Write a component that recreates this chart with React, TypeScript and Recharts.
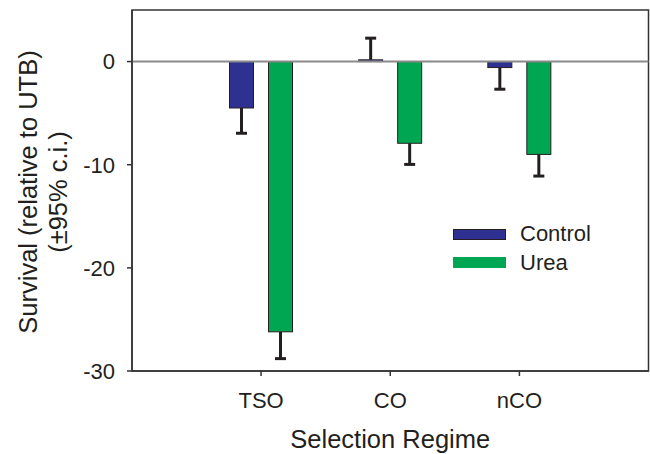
import * as RC from 'recharts';
import { BarChart, Bar, XAxis, YAxis, ReferenceLine, Legend } from 'recharts';

const regimes = ['TSO', 'CO', 'nCO'];
const control = [-4.5, 0.17, -0.58];
const controlCi = [2.45, 2.1, 2.1];
const urea = [-26.2, -7.92, -9.0];
const ureaCi = [2.6, 2.05, 2.1];
const yTicks = [-30, -20, -10, 0];

const data = regimes.map((name, i) => ({
  name,
  control: control[i],
  controlCi: controlCi[i],
  urea: urea[i],
  ureaCi: ureaCi[i],
}));

const FONT = '"Liberation Sans", Arial, sans-serif';
const INK = '#231f20';
const BLUE = '#2e3192';
const GREEN = '#00a651';

// bar + one-sided CI whisker, scaled from the bar's own pixel height
const barWithCi = (key: string, ciKey: string) => (p: any) => {
  const v = p.payload[key] as number;
  const e = p.payload[ciKey] as number;
  const top = Math.min(p.y, p.y + p.height);
  const h = Math.abs(p.height);
  const ppu = h / Math.abs(v);
  const endY = v < 0 ? top + h : top;
  const errY = v < 0 ? endY + e * ppu : endY - e * ppu;
  const cx = p.x + p.width / 2;
  return (
    <g>
      <line x1={cx} x2={cx} y1={endY} y2={errY} stroke={INK} strokeWidth={3} />
      <line x1={cx - 5.5} x2={cx + 5.5} y1={errY} y2={errY} stroke={INK} strokeWidth={3} />
      <rect x={p.x} y={top} width={p.width} height={h} fill={p.fill} stroke={INK} strokeWidth={1} />
    </g>
  );
};

// box round the plot area
const Frame = () => {
  const usePA = (RC as any).usePlotArea;
  const pa = usePA ? usePA() : null;
  if (!pa) return null;
  return <rect x={pa.x} y={pa.y} width={pa.width} height={pa.height} fill="none" stroke="#333" strokeWidth={1.5} />;
};

const YTitle = () => (
  <g fill={INK} fontFamily={FONT} fontSize={25.5}>
    <text transform="translate(37,192) rotate(-90)" textAnchor="middle">Survival (relative to UTB)</text>
    <text transform="translate(67,192) rotate(-90)" textAnchor="middle">(±95% c.i.)</text>
  </g>
);

const XTitle = (props: any) => {
  const vb = props.viewBox;
  return (
    <text x={vb.x + vb.width / 2} y={448} textAnchor="middle" fill={INK} fontFamily={FONT} fontSize={25.5}>
      Selection Regime
    </text>
  );
};

const LegendBox = () => (
  <div style={{ fontFamily: FONT, fontSize: 22, color: INK }}>
    {[{ label: 'Control', c: BLUE, b: INK }, { label: 'Urea', c: GREEN, b: GREEN }].map((it) => (
      <div key={it.label} style={{ display: 'flex', alignItems: 'center', height: 28.5 }}>
        <div style={{ width: 51, height: 9, background: it.c, border: `1px solid ${it.b}` }} />
        <span style={{ marginLeft: 14, lineHeight: '28px' }}>{it.label}</span>
      </div>
    ))}
  </div>
);

export default function App() {
  const tick = { fontSize: 22, fill: INK, fontFamily: FONT };
  return (
    <div style={{ position: 'absolute', left: 0, top: 0 }}>
      <BarChart
        width={650}
        height={454}
        data={data}
        margin={{ top: 10, right: 1.5, bottom: 0, left: 0 }}
        barSize={24}
        barGap={15}
      >
        <XAxis
          dataKey="name"
          height={83}
          padding={{ left: 64.5, right: 64.5 }}
          tick={tick}
          tickSize={5}
          tickMargin={16}
          stroke="#333"
          strokeWidth={1.5}
          tickLine={{ stroke: '#333' }}
          label={<XTitle />}
        />
        <YAxis
          width={132}
          type="number"
          domain={[-30, 5]}
          ticks={yTicks}
          tick={tick}
          tickSize={5}
          tickMargin={12}
          stroke="#333"
          strokeWidth={1.5}
          label={<YTitle />}
        />
        <ReferenceLine y={0} stroke="#8a8a8a" strokeWidth={2} />
        <Bar dataKey="control" fill={BLUE} isAnimationActive={false} shape={barWithCi('control', 'controlCi')} />
        <Bar dataKey="urea" fill={GREEN} isAnimationActive={false} shape={barWithCi('urea', 'ureaCi')} />
        <Frame />
        <Legend
          layout="horizontal"
          verticalAlign="middle"
          align="center"
          content={<LegendBox />}
          wrapperStyle={{ position: 'absolute', left: 453, top: 220, width: 'auto', height: 'auto' }}
        />
      </BarChart>
    </div>
  );
}
